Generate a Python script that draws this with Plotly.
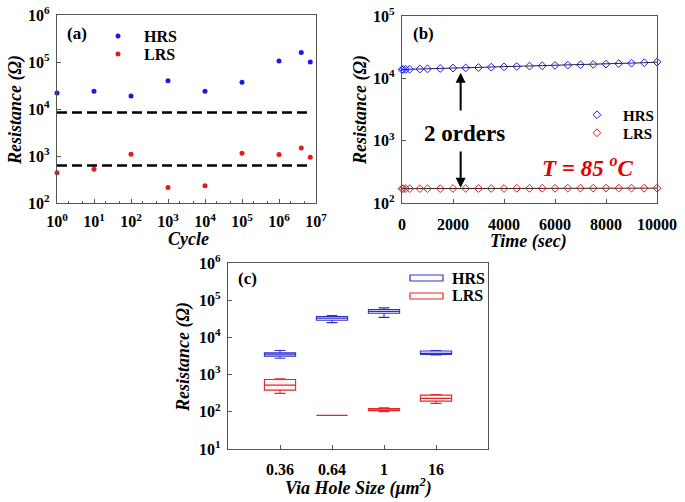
import plotly.graph_objects as go

# ---------------- data ----------------
# (a) endurance
cycles = [1, 10, 100, 1e3, 1e4, 1e5, 1e6, 4e6, 7e6]
hrs_a = [22000, 24000, 19000, 40000, 24000, 37000, 105000, 160000, 100000]
lrs_a = [440, 525, 1090, 213, 233, 1150, 1080, 1480, 935]
hrs_threshold = 8400
lrs_threshold = 630
threshold_span = [1, 6.3e6]
a_ticks = [1, 10, 100, 1e3, 1e4, 1e5, 1e6, 1e7]
a_ticktext = ["10<sup>%d</sup>" % i for i in range(8)]

# (b) retention at 85 C
times = [0, 50, 150, 300, 700, 1000, 1500, 2000, 2500, 3000, 3500, 4000,
         4500, 5000, 5500, 6000, 6500, 7000, 7500, 8000, 8500, 9000, 9500, 10000]
hrs_b = [13800, 13900, 13900, 14000, 14100, 14200, 14400, 14600, 14700, 14900,
         15100, 15300, 15500, 15700, 15900, 16100, 16300, 16500, 16700, 16900,
         17200, 17500, 17800, 18200]
lrs_b = [170, 170, 170, 170, 170, 170, 170, 171, 171, 171, 171, 171,
         172, 172, 172, 172, 173, 173, 173, 173, 173, 173, 173, 173]
b_xticks = [0, 2000, 4000, 6000, 8000, 10000]
b_xticktext = ["0", "2000", "4000", "6000", "8000", "10000"]
b_yticks = [100, 1000, 10000, 100000]
b_yticktext = ["10<sup>2</sup>", "10<sup>3</sup>", "10<sup>4</sup>", "10<sup>5</sup>"]

# (c) via hole size statistics
sizes = ["0.36", "0.64", "1", "16"]
size_pos = [0, 1, 2, 3]
hrs_low = [2750, 25000, 34500, 3400]
hrs_q1 = [3130, 29000, 44700, 3500]
hrs_med = [3550, 33000, 50000, 3600]
hrs_q3 = [3850, 36300, 56000, 4300]
hrs_high = [4450, 38700, 62000, 4400]
lrs_low = [312, 80, 100, 168]
lrs_q1 = [383, 80, 107, 194]
lrs_med = [521, 80, 111, 229]
lrs_q3 = [741, 80, 123, 281]
lrs_high = [770, 80, 128, 293]
c_yticks = [10, 100, 1000, 1e4, 1e5, 1e6]
c_yticktext = ["10<sup>%d</sup>" % i for i in range(1, 7)]

# ---------------- style ----------------
W, H = 685, 502
SERIF = "Liberation Serif"
BLUE = "#1a1ae6"
RED = "#e61a1a"
BBLUE = "#3030c8"
BRED = "#e02828"
AX = "#555555"


def fx(px):  # window pixel x -> paper
    return px / W


def fy(py):  # window pixel y -> paper
    return (H - py) / H


def xdom(a, b):
    return [fx(a), fx(b)]


def ydom(top, bottom):
    return [fy(bottom), fy(top)]


tickfont = dict(family=SERIF, size=16, color="black", weight="bold")

fig = go.Figure()

# (a)
fig.add_trace(go.Scatter(x=cycles, y=hrs_a, mode="markers", name="HRS",
                         marker=dict(color=BLUE, size=5), cliponaxis=False,
                         xaxis="x", yaxis="y", legend="legend"))
fig.add_trace(go.Scatter(x=cycles, y=lrs_a, mode="markers", name="LRS",
                         marker=dict(color=RED, size=5), cliponaxis=False,
                         xaxis="x", yaxis="y", legend="legend3"))
for th in [hrs_threshold, lrs_threshold]:
    fig.add_trace(go.Scatter(x=threshold_span, y=[th, th], mode="lines",
                             line=dict(color="black", width=2.5, dash="10px,5px"),
                             showlegend=False, hoverinfo="skip",
                             xaxis="x", yaxis="y"))

# (b)
for vals, col, nm, lg in [(hrs_b, BLUE, "HRS", "legend2"), (lrs_b, RED, "LRS", "legend4")]:
    fig.add_trace(go.Scatter(x=times, y=vals, mode="lines",
                             line=dict(color="#222222", width=1),
                             showlegend=False, hoverinfo="skip", cliponaxis=False,
                             xaxis="x2", yaxis="y2"))
    fig.add_trace(go.Scatter(x=times, y=vals, mode="markers", name=nm,
                             marker=dict(symbol="diamond-open", color=col, size=6,
                                         line=dict(width=1, color=col)),
                             cliponaxis=False, xaxis="x2", yaxis="y2",
                             legend=lg))

# (c)
fig.add_trace(go.Box(x=size_pos, q1=hrs_q1, median=hrs_med, q3=hrs_q3,
                     lowerfence=hrs_low, upperfence=hrs_high, name="HRS",
                     line=dict(color=BBLUE, width=1.1), fillcolor="rgba(215,215,255,0.3)",
                     width=0.6, whiskerwidth=0.35, showlegend=False,
                     xaxis="x3", yaxis="y3"))
fig.add_trace(go.Box(x=size_pos, q1=lrs_q1, median=lrs_med, q3=lrs_q3,
                     lowerfence=lrs_low, upperfence=lrs_high, name="LRS",
                     line=dict(color=BRED, width=1.1), fillcolor="rgba(255,220,220,0.3)",
                     width=0.6, whiskerwidth=0.35, showlegend=False,
                     xaxis="x3", yaxis="y3"))

common = dict(showline=True, linecolor=AX, linewidth=1.2, mirror=True,
              ticks="inside", ticklen=4, tickcolor=AX, showgrid=False,
              zeroline=False, tickfont=tickfont, automargin=False,
              ticklabeloverflow="allow")


def leg(xpx, ypx, size):
    return dict(x=fx(xpx), y=fy(ypx), xanchor="left", yanchor="middle",
                bgcolor="rgba(0,0,0,0)", itemwidth=42, tracegroupgap=0,
                font=dict(family=SERIF, size=size, color="black", weight="bold"))


layout = dict(
    width=W, height=H, margin=dict(l=0, r=0, t=0, b=0, autoexpand=False),
    paper_bgcolor="white", plot_bgcolor="white", boxmode="overlay",
    xaxis=dict(common, type="log", range=[0, 7.0], domain=xdom(57, 316),
               tickvals=a_ticks, ticktext=a_ticktext, anchor="y",
               minor=dict(ticks="inside", ticklen=2, tickcolor=AX, showgrid=False),
               ticklabelstandoff=4),
    yaxis=dict(common, type="log", range=[2, 6], domain=ydom(15, 203),
               tickvals=[100, 1000, 1e4, 1e5, 1e6],
               ticktext=["10<sup>%d</sup>" % i for i in range(2, 7)], anchor="x",
               ticklabelstandoff=3),
    xaxis2=dict(common, range=[0, 10000], domain=xdom(402, 657),
                tickvals=b_xticks, ticktext=b_xticktext, anchor="y2",
                ticklabelstandoff=7),
    yaxis2=dict(common, type="log", range=[2, 5], domain=ydom(16, 203),
                tickvals=b_yticks, ticktext=b_yticktext, anchor="x2",
                ticklabelstandoff=3),
    xaxis3=dict(common, range=[-1, 4], domain=xdom(228, 488),
                tickvals=size_pos, ticktext=sizes, anchor="y3",
                ticklabelstandoff=6),
    yaxis3=dict(common, type="log", range=[1, 6], domain=ydom(263, 449),
                tickvals=c_yticks, ticktext=c_yticktext, anchor="x3",
                ticklabelstandoff=3),
    legend=leg(92, 36, 16),
    legend3=leg(92, 54, 16),
    legend2=leg(571, 115, 15),
    legend4=leg(571, 133, 15),
)
fig.update_layout(**layout)

ann = []


def txt(x, y, s, size=18, **kw):
    d = dict(xref="paper", yref="paper", x=fx(x), y=fy(y), text=s,
             showarrow=False, xanchor="center", yanchor="middle",
             font=dict(family=SERIF, size=size, color=kw.pop("color", "black"),
                       weight="bold", style=kw.pop("style", "italic")))
    d.update(kw)
    ann.append(d)


# axis titles
txt(15, 110, "Resistance (Ω)", textangle=-90)
txt(188, 239, "Cycle")
txt(360, 110, "Resistance (Ω)", textangle=-90)
txt(528, 241, "Time (sec)")
txt(183, 357, "Resistance (Ω)", textangle=-90)
txt(358, 487, "Via Hole Size (μm<sup>2</sup>)")
# panel labels
txt(77, 33, "(a)", size=17, style="normal")
txt(423, 33, "(b)", size=17, style="normal")
txt(247, 278, "(c)", size=17, style="normal")
# (b) annotations
ann.append(dict(xref="x2", yref="y2", x=2300, y=4.09, ax=2300, ay=3.46,
                axref="x2", ayref="y2", showarrow=True, arrowhead=2,
                arrowsize=1, arrowwidth=2, arrowcolor="black", text=""))
ann.append(dict(xref="x2", yref="y2", x=2300, y=2.245, ax=2300, ay=2.85,
                axref="x2", ayref="y2", showarrow=True, arrowhead=2,
                arrowsize=1, arrowwidth=2, arrowcolor="black", text=""))
txt(464, 133, "2 orders", size=23, style="normal")
txt(587, 166, "T = 85 <sup>o</sup>C", size=23, color="#e00000")

# (c) legend drawn as outlined bars with labels
shapes = []
for (y0, col, lab) in [(275, BBLUE, "HRS"), (293, BRED, "LRS")]:
    shapes.append(dict(type="rect", xref="paper", yref="paper",
                       x0=fx(410), x1=fx(443), y0=fy(y0 + 6), y1=fy(y0),
                       line=dict(color=col, width=1.2), fillcolor="white"))
    txt(450, y0 + 3, lab, size=16, style="normal", xanchor="left")

fig.update_layout(annotations=ann, shapes=shapes)
# remove the default page margin so the figure sits at the window's top-left corner
fig.write_html("out.html", config={"displayModeBar": False},
               post_script="document.body.style.margin='0';window.dispatchEvent(new Event('resize'));")
